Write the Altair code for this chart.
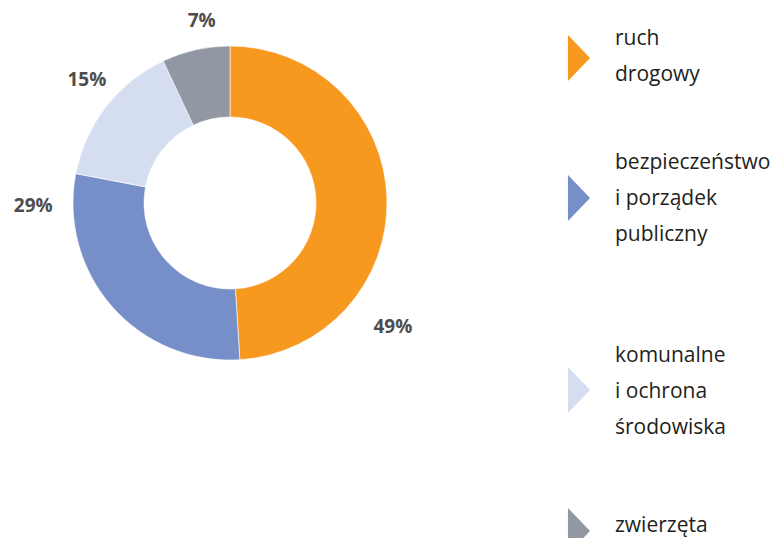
import altair as alt
import pandas as pd

# ---- data ----
categories = ["ruch drogowy", "bezpieczeństwo i porządek publiczny",
              "komunalne i ochrona środowiska", "zwierzęta"]
legend_lines = [["ruch", "drogowy"],
                ["bezpieczeństwo", "i porządek", "publiczny"],
                ["komunalne", "i ochrona", "środowiska"],
                ["zwierzęta"]]
values = [49, 29, 15, 7]
labels = ["49%", "29%", "15%", "7%"]
colors = ["#F7981F", "#768FC8", "#D5DEF0", "#9297A4"]

df = pd.DataFrame({
    "kategoria": categories,
    "wartosc": values,
    "etykieta": labels,
    "kolejnosc": list(range(len(categories))),
    "legenda": legend_lines,
})

# ---- layout (pixels in chart coordinates) ----
W, H = 763, 530
CX, CY = 222, 195
R_OUT, R_IN = 157, 86
LABEL_R = 185
label_offsets = {  # manual nudges of the percentage labels
    "ruch drogowy": (-22, 130),
    "bezpieczeństwo i porządek publiczny": (-58, -119),
    "komunalne i ochrona środowiska": (3, -10),
    "zwierzęta": (12, -1),
}
legend_symbol_y = [50, 190, 382, 523]
legend_text_y = [37, 161, 354, 524]
SYMBOL_X, TEXT_X = 571, 607
TRIANGLE = "M -0.48 -1 L 0.48 0 L -0.48 1 Z"

color_scale = alt.Scale(domain=categories, range=colors)

base = alt.Chart(df)

arcs = base.mark_arc(innerRadius=R_IN, outerRadius=R_OUT, stroke="white",
                     strokeWidth=0.6).encode(
    theta=alt.Theta("wartosc:Q", stack=True),
    color=alt.Color("kategoria:N", scale=color_scale, legend=None),
    order=alt.Order("kolejnosc:Q"),
    x=alt.value(CX), y=alt.value(CY),
)

layers = [arcs]
for cat in categories:
    dx, dy = label_offsets[cat]
    layers.append(
        base.mark_text(radius=LABEL_R, dx=dx, dy=dy, font="Open Sans",
                       fontWeight="bold", fontSize=19, color="#4D4D4D",
                       align="center", baseline="middle").encode(
            theta=alt.Theta("wartosc:Q", stack=True),
            order=alt.Order("kolejnosc:Q"),
            text="etykieta:N",
            opacity=alt.condition(alt.datum.kategoria == cat, alt.value(1), alt.value(0)),
            x=alt.value(CX), y=alt.value(CY),
        )
    )

for i, cat in enumerate(categories):
    item = base.transform_filter(alt.datum.kategoria == cat)
    layers.append(
        item.mark_point(shape=TRIANGLE, size=46 * 46, filled=True, opacity=1,
                        strokeWidth=0).encode(
            x=alt.value(SYMBOL_X), y=alt.value(legend_symbol_y[i]),
            color=alt.Color("kategoria:N", scale=color_scale, legend=None),
        )
    )
    layers.append(
        item.mark_text(font="Open Sans", fontSize=21, color="#231F20",
                       align="left", baseline="alphabetic", lineHeight=36).encode(
            x=alt.value(TEXT_X), y=alt.value(legend_text_y[i]),
            text="legenda",
        )
    )

chart = alt.layer(*layers).properties(
    width=W, height=H, padding=0, autosize="none"
).configure_view(stroke=None)

chart.save("out.html", embed_options={"renderer": "svg", "actions": False})
